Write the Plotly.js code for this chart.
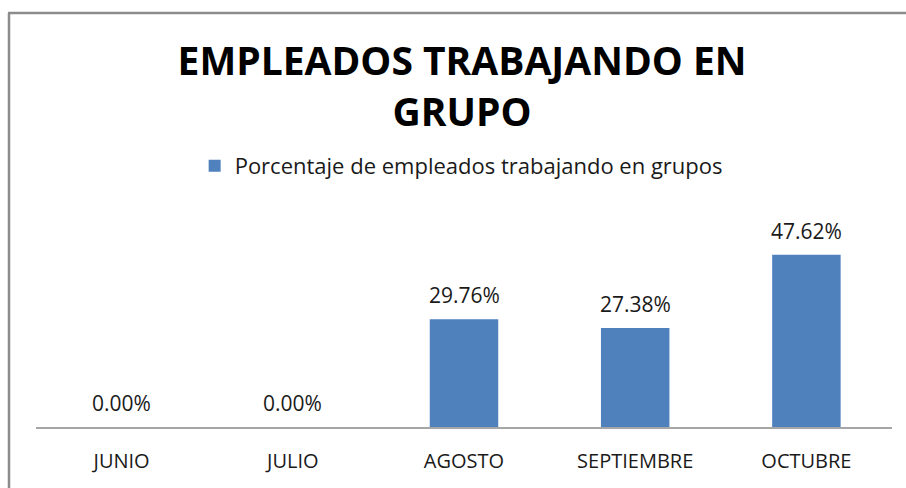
<!DOCTYPE html>
<html>
<head>
<meta charset="utf-8">
<script src="https://cdn.plot.ly/plotly-3.0.1.min.js"></script>
<style>html,body{margin:0;padding:0;background:#fff;}#chart{width:906px;height:488px;}</style>
</head>
<body>
<div id="chart"></div>
<script>
const categories = ['JUNIO', 'JULIO', 'AGOSTO', 'SEPTIEMBRE', 'OCTUBRE'];
const values = [0.00, 0.00, 29.76, 27.38, 47.62];
const labels = ['0.00%', '0.00%', '29.76%', '27.38%', '47.62%'];
const seriesName = 'Porcentaje de empleados trabajando en grupos';
const chartTitle = 'EMPLEADOS TRABAJANDO EN<br>GRUPO';

const W = 906, H = 488, ml = 36, mr = 14, mt = 210, mb = 61;
const pw = W - ml - mr, ph = H - mt - mb;
const px = x => (x - ml) / pw;
const py = y => (H - mb - y) / ph;

const trace = {
  type: 'bar',
  x: categories,
  y: values,
  name: seriesName,
  marker: {color: '#4F81BD'},
  hoverinfo: 'skip'
};

const annotations = categories.map((c, i) => ({
  x: c, y: values[i], xref: 'x', yref: 'y',
  text: labels[i], showarrow: false,
  yanchor: 'bottom', yshift: 8,
  font: {family: 'Open Sans, sans-serif', size: 21, color: '#1a1a1a'}
}));

const layout = {
  width: W, height: H,
  margin: {l: ml, r: mr, t: mt, b: mb, pad: 0},
  paper_bgcolor: '#fff', plot_bgcolor: '#fff',
  showlegend: true,
  title: {
    text: chartTitle,
    x: 0.51, xanchor: 'center',
    y: 1 - 75 / H, yanchor: 'top',
    font: {family: 'Open Sans, sans-serif', size: 39, color: '#000', weight: 'bold'}
  },
  legend: {
    orientation: 'h',
    x: 0.509, xanchor: 'center', xref: 'container',
    y: 1 - 145 / H, yref: 'container', yanchor: 'top',
    font: {family: 'Open Sans, sans-serif', size: 22, color: '#1a1a1a'},
    itemwidth: 30,
    itemclick: false
  },
  bargap: 0.6,
  xaxis: {
    showline: true, linecolor: '#a6a6a6', linewidth: 1.5,
    ticks: 'outside', ticklen: 15, tickcolor: 'rgba(0,0,0,0)',
    tickfont: {family: 'Open Sans, sans-serif', size: 20, color: '#1a1a1a'},
    fixedrange: true
  },
  yaxis: {
    range: [0, 60], visible: false, showgrid: false, zeroline: false, fixedrange: true
  },
  annotations: annotations,
  shapes: [
    {type: 'line', xref: 'paper', yref: 'paper', x0: px(9), x1: px(9), y0: py(13), y1: py(500),
     line: {color: '#8c8c8c', width: 2.5}},
    {type: 'line', xref: 'paper', yref: 'paper', x0: px(8), x1: px(920), y0: py(13), y1: py(13),
     line: {color: '#8c8c8c', width: 2.5}}
  ]
};

Plotly.newPlot('chart', [trace], layout, {displayModeBar: false, staticPlot: true});
</script>
</body>
</html>
